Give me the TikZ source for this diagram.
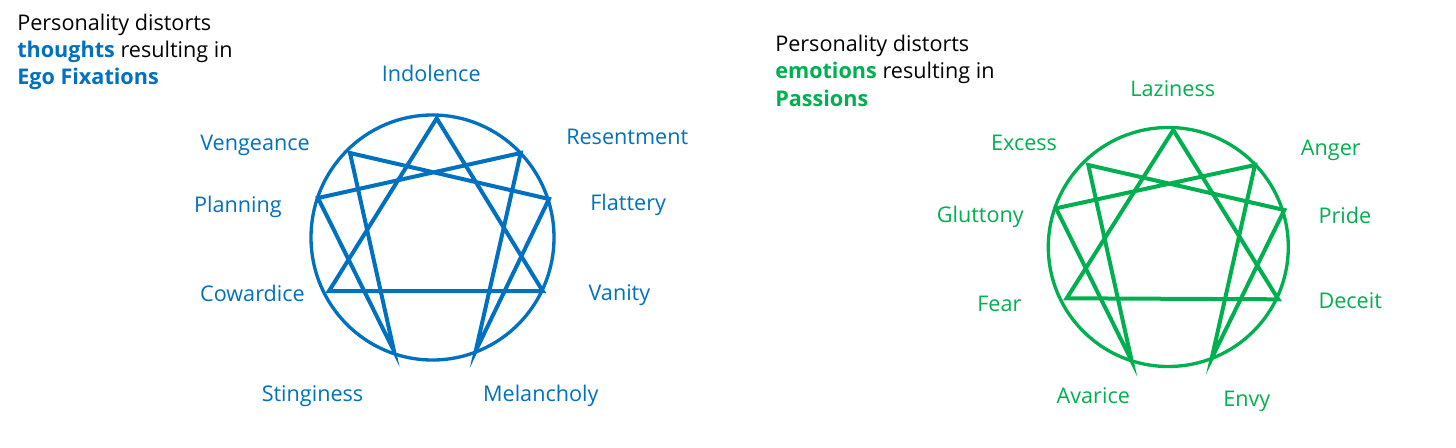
\documentclass[tikz,border=0pt]{standalone}
\usepackage{fontspec}
\setmainfont{Open Sans}
\usepackage{xcolor}
\usetikzlibrary{positioning}
\definecolor{fixblue}{HTML}{0070C0}
\definecolor{pasgreen}{HTML}{00B050}
\begin{document}
\begin{tikzpicture}[x=0.75pt,y=-0.75pt,
        ring/.style={line width=2.5pt},
        figure/.style={line width=3pt,line join=miter},
        title/.style={anchor=base west,inner sep=0pt,font=\fontsize{16.2}{20}\selectfont},
        lbl/.style={inner sep=0pt,font=\fontsize{16.2}{20}\selectfont}]
      \useasboundingbox (0,0) rectangle (1456,447);
      \node (ttl1) at (17,30.7) [title] {Personality distorts};
      \node (ttl2) at (17,57.3) [title] {\textcolor{fixblue}{\bfseries thoughts} resulting in};
      \node (ttl3) at (17,84.3) [title,text=fixblue] {\bfseries Ego Fixations};
      \node (ttr1) at (775,51.7) [title] {Personality distorts};
      \node (ttr2) at (775,78.3) [title] {\textcolor{pasgreen}{\bfseries emotions} resulting in};
      \node (ttr3) at (775,106) [title,text=pasgreen] {\bfseries Passions};
      \begin{scope}[draw=fixblue,text=fixblue]
        \coordinate (f9) at (436.7,118.3);
        \coordinate (f1) at (520.7,153);
        \coordinate (f2) at (549,199);
        \coordinate (f3) at (542.7,291);
        \coordinate (f4) at (475.7,351);
        \coordinate (f5) at (394,351);
        \coordinate (f6) at (329,291);
        \coordinate (f7) at (318,198);
        \coordinate (f8) at (350,153);
        \draw[ring] (432.5,237.5) ellipse [x radius=121.5,y radius=122.5];
        \draw[figure] (f9) -- (f3) -- (f6) -- cycle;
        \draw[figure] (f1) -- (f4) -- (f2) -- (f8) -- (f5) -- (f7) -- cycle;
        \node (indolence) at (431.2,81.7) [lbl,anchor=base] {Indolence};
        \node (resentment) at (566,144.3) [lbl,anchor=base west] {Resentment};
        \node (flattery) at (590,210) [lbl,anchor=base west] {Flattery};
        \node (vanity) at (588.3,300) [lbl,anchor=base west] {Vanity};
        \node (melancholy) at (540.8,401.7) [lbl,anchor=base] {Melancholy};
        \node (stinginess) at (312.5,401.7) [lbl,anchor=base] {Stinginess};
        \node (cowardice) at (305,301.7) [lbl,anchor=base east] {Cowardice};
        \node (planning) at (282,212.7) [lbl,anchor=base east] {Planning};
        \node (vengeance) at (310,150.7) [lbl,anchor=base east] {Vengeance};
      \end{scope}
      \begin{scope}[draw=pasgreen,text=pasgreen]
        \coordinate (p9) at (1173.3,130);
        \coordinate (p1) at (1255,165);
        \coordinate (p2) at (1284.3,210);
        \coordinate (p3) at (1278.3,299.3);
        \coordinate (p4) at (1211.7,358.3);
        \coordinate (p5) at (1131.7,361);
        \coordinate (p6) at (1066.7,298.3);
        \coordinate (p7) at (1056,208.3);
        \coordinate (p8) at (1088.3,165);
        \draw[ring] (1168.3,247) ellipse [x radius=120,y radius=119.5];
        \draw[figure] (p9) -- (p3) -- (p6) -- cycle;
        \draw[figure] (p1) -- (p4) -- (p2) -- (p8) -- (p5) -- (p7) -- cycle;
        \node (laziness) at (1172.8,96.7) [lbl,anchor=base] {Laziness};
        \node (anger) at (1300.7,155) [lbl,anchor=base west] {Anger};
        \node (pride) at (1318.3,223.3) [lbl,anchor=base west] {Pride};
        \node (deceit) at (1318.3,308.3) [lbl,anchor=base west] {Deceit};
        \node (envy) at (1246.8,406) [lbl,anchor=base] {Envy};
        \node (avarice) at (1093.3,403.3) [lbl,anchor=base] {Avarice};
        \node (fear) at (1021.7,311.7) [lbl,anchor=base east] {Fear};
        \node (gluttony) at (1024,222.7) [lbl,anchor=base east] {Gluttony};
        \node (excess) at (1057.3,150) [lbl,anchor=base east] {Excess};
      \end{scope}
    \end{tikzpicture}
\end{document}
